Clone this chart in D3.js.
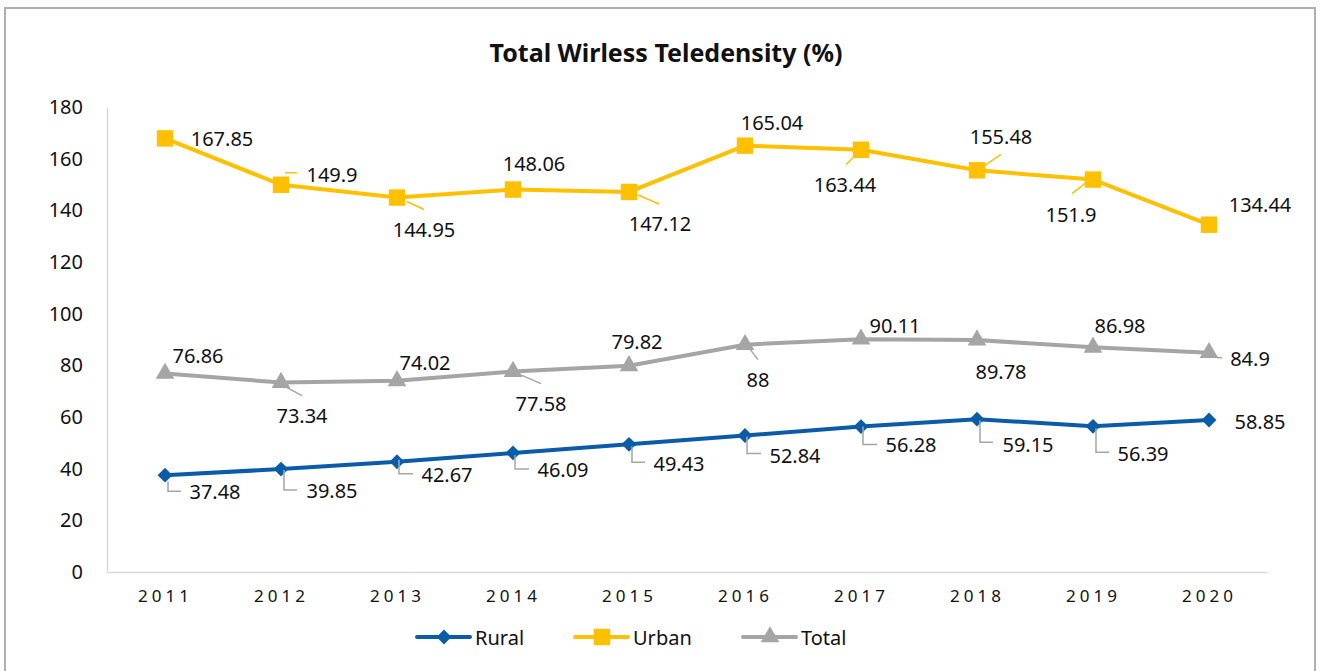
<!DOCTYPE html>
<html>
<head>
<meta charset="utf-8">
<script src="https://cdn.jsdelivr.net/npm/d3@7"></script>
<style>
  body { margin: 0; background: #fff; }
  text { font-family: "Noto Sans", sans-serif; fill: #111; }
</style>
</head>
<body>
<div id="chart"></div>
<script>
// values
const years = ["2011", "2012", "2013", "2014", "2015", "2016", "2017", "2018", "2019", "2020"]
const rural = [37.48, 39.85, 42.67, 46.09, 49.43, 52.84, 56.28, 59.15, 56.39, 58.85]
const urban = [167.85, 149.9, 144.95, 148.06, 147.12, 165.04, 163.44, 155.48, 151.9, 134.44]
const total = [76.86, 73.34, 74.02, 77.58, 79.82, 88, 90.11, 89.78, 86.98, 84.9]
const yTicks = [0, 20, 40, 60, 80, 100, 120, 140, 160, 180]

// label placement: [dx, dy] of text centre from the point, plus optional leader line
const urbanLabels = [
    {d: [57, 0]},
    {d: [51, -10], l: [[4, -12], [16, -12]]},
    {d: [27, 32], l: [[10, 4], [27, 12]]},
    {d: [21, -26]},
    {d: [31, 32], l: [[9, 3], [30, 12]]},
    {d: [27, -23]},
    {d: [-16, 35], l: [[-15, 15], [-8, 8]]},
    {d: [24, -34], l: [[8, -5], [24, -16]]},
    {d: [-22, 35], l: [[-21, 14], [-7, 3]]},
    {d: [51, -20]},
]
const totalLabels = [
    {d: [33, -18]},
    {d: [21, 33], l: [[6, 5], [21, 13]]},
    {d: [28, -18]},
    {d: [28, 32], l: [[7, 3], [28, 12]]},
    {d: [8, -24]},
    {d: [13, 35], l: [[3, 2], [13, 15]]},
    {d: [34, -14]},
    {d: [24, 31]},
    {d: [27, -22]},
    {d: [41, 6], l: [[8, 5], [13, 5]]},
]
const ruralLabels = [
    {d: [50, 16], l: [[3, 6], [3, 16], [16, 16]]},
    {d: [51, 21], l: [[3, 1], [3, 21], [16, 21]]},
    {d: [50, 13], l: [[2, -2], [2, 12], [16, 12]]},
    {d: [50, 17], l: [[2, 2], [2, 16], [16, 16]]},
    {d: [50, 19], l: [[3, 2], [3, 18], [16, 18]]},
    {d: [50, 20], l: [[2, 1], [2, 18], [16, 18]]},
    {d: [50, 18], l: [[2, 0], [2, 18], [16, 18]]},
    {d: [51, 25], l: [[3, 1], [3, 23], [16, 23]]},
    {d: [50, 27], l: [[3, 2], [3, 26], [16, 26]]},
    {d: [51, 2]},
]

const W = 1325, H = 671
const plot = {left: 107, right: 1267, top: 107, bottom: 572}

const series = [
    {name: "Rural", values: rural, color: "#0b5ca8", leader: "#a5a5a5", symbol: d3.symbolDiamond2, size: 140, labels: ruralLabels},
    {name: "Urban", values: urban, color: "#ffc000", leader: "#ffc000", symbol: d3.symbolSquare, size: 270, labels: urbanLabels},
    {name: "Total", values: total, color: "#a5a5a5", leader: "#a5a5a5", symbol: d3.symbolTriangle, size: 150, labels: totalLabels},
]

const svg = d3.select('#chart').append('svg')
    .attr('width', W).attr('height', H)

svg.append('rect')
    .attr('x', 5).attr('y', 8).attr('width', 1310).attr('height', 670)
    .attr('fill', '#fff').attr('stroke', '#b0b0b0').attr('stroke-width', 2)

svg.append('text')
    .attr('x', 666).attr('y', 52)
    .attr('text-anchor', 'middle').attr('dominant-baseline', 'central')
    .attr('font-size', 25).attr('font-weight', 'bold')
    .text('Total Wirless Teledensity (%)')

const x = d3.scalePoint().domain(years).range([plot.left, plot.right]).padding(0.5)
const y = d3.scaleLinear().domain([0, 180]).range([plot.bottom, plot.top])

// axes
const yAxis = svg.append('g')
    .attr('transform', `translate(${plot.left},0)`)
    .call(d3.axisLeft(y).tickValues(yTicks).tickSize(0).tickPadding(24))
yAxis.select('.domain').attr('stroke', '#d9d9d9').attr('stroke-width', 1.5)
yAxis.selectAll('text').attr('font-size', 20).attr('font-family', '"Noto Sans", sans-serif').attr('fill', '#111')

const xAxis = svg.append('g')
    .attr('transform', `translate(0,${plot.bottom})`)
    .call(d3.axisBottom(x).tickSize(0).tickPadding(18))
xAxis.select('.domain').attr('stroke', '#d9d9d9').attr('stroke-width', 1.5)
xAxis.selectAll('text').attr('font-size', 17).attr('letter-spacing', 4)
    .attr('font-family', '"Noto Sans", sans-serif').attr('fill', '#111')

const line = d3.line().x((d, i) => x(years[i])).y(d => y(d))

series.forEach(s => {
    const g = svg.append('g').attr('class', 'series')
    g.append('path')
        .attr('d', line(s.values))
        .attr('fill', 'none').attr('stroke', s.color).attr('stroke-width', 4)
        .attr('stroke-linejoin', 'round')

    g.selectAll('path.marker')
        .data(s.values)
        .join('path')
        .attr('class', 'marker')
        .attr('transform', (d, i) => `translate(${x(years[i])},${y(d)})`)
        .attr('d', d3.symbol(s.symbol, s.size))
        .attr('fill', s.color)

    s.values.forEach((v, i) => {
        const px = x(years[i]), py = y(v)
        const lab = s.labels[i]
        if (lab.l) {
            g.append('path')
                .attr('d', d3.line()(lab.l.map(p => [px + p[0], py + p[1]])))
                .attr('fill', 'none').attr('stroke', s.leader).attr('stroke-width', 1.5)
        }
        g.append('text')
            .attr('x', px + lab.d[0]).attr('y', py + lab.d[1])
            .attr('text-anchor', 'middle').attr('dominant-baseline', 'central')
            .attr('font-size', 20)
            .text(v)
    })
})

// legend
const legendX = [417, 575, 743]
const legend = svg.append('g').attr('transform', 'translate(0,637)')
series.forEach((s, i) => {
    const lg = legend.append('g').attr('transform', `translate(${legendX[i]},0)`)
    lg.append('line').attr('x1', 0).attr('x2', 53)
        .attr('stroke', s.color).attr('stroke-width', 4).attr('stroke-linecap', 'round')
    lg.append('path').attr('transform', 'translate(27,0)')
        .attr('d', d3.symbol(s.symbol, s.size)).attr('fill', s.color)
    lg.append('text').attr('x', 58).attr('dominant-baseline', 'central')
        .attr('font-size', 20).text(s.name)
})
</script>
</body>
</html>
